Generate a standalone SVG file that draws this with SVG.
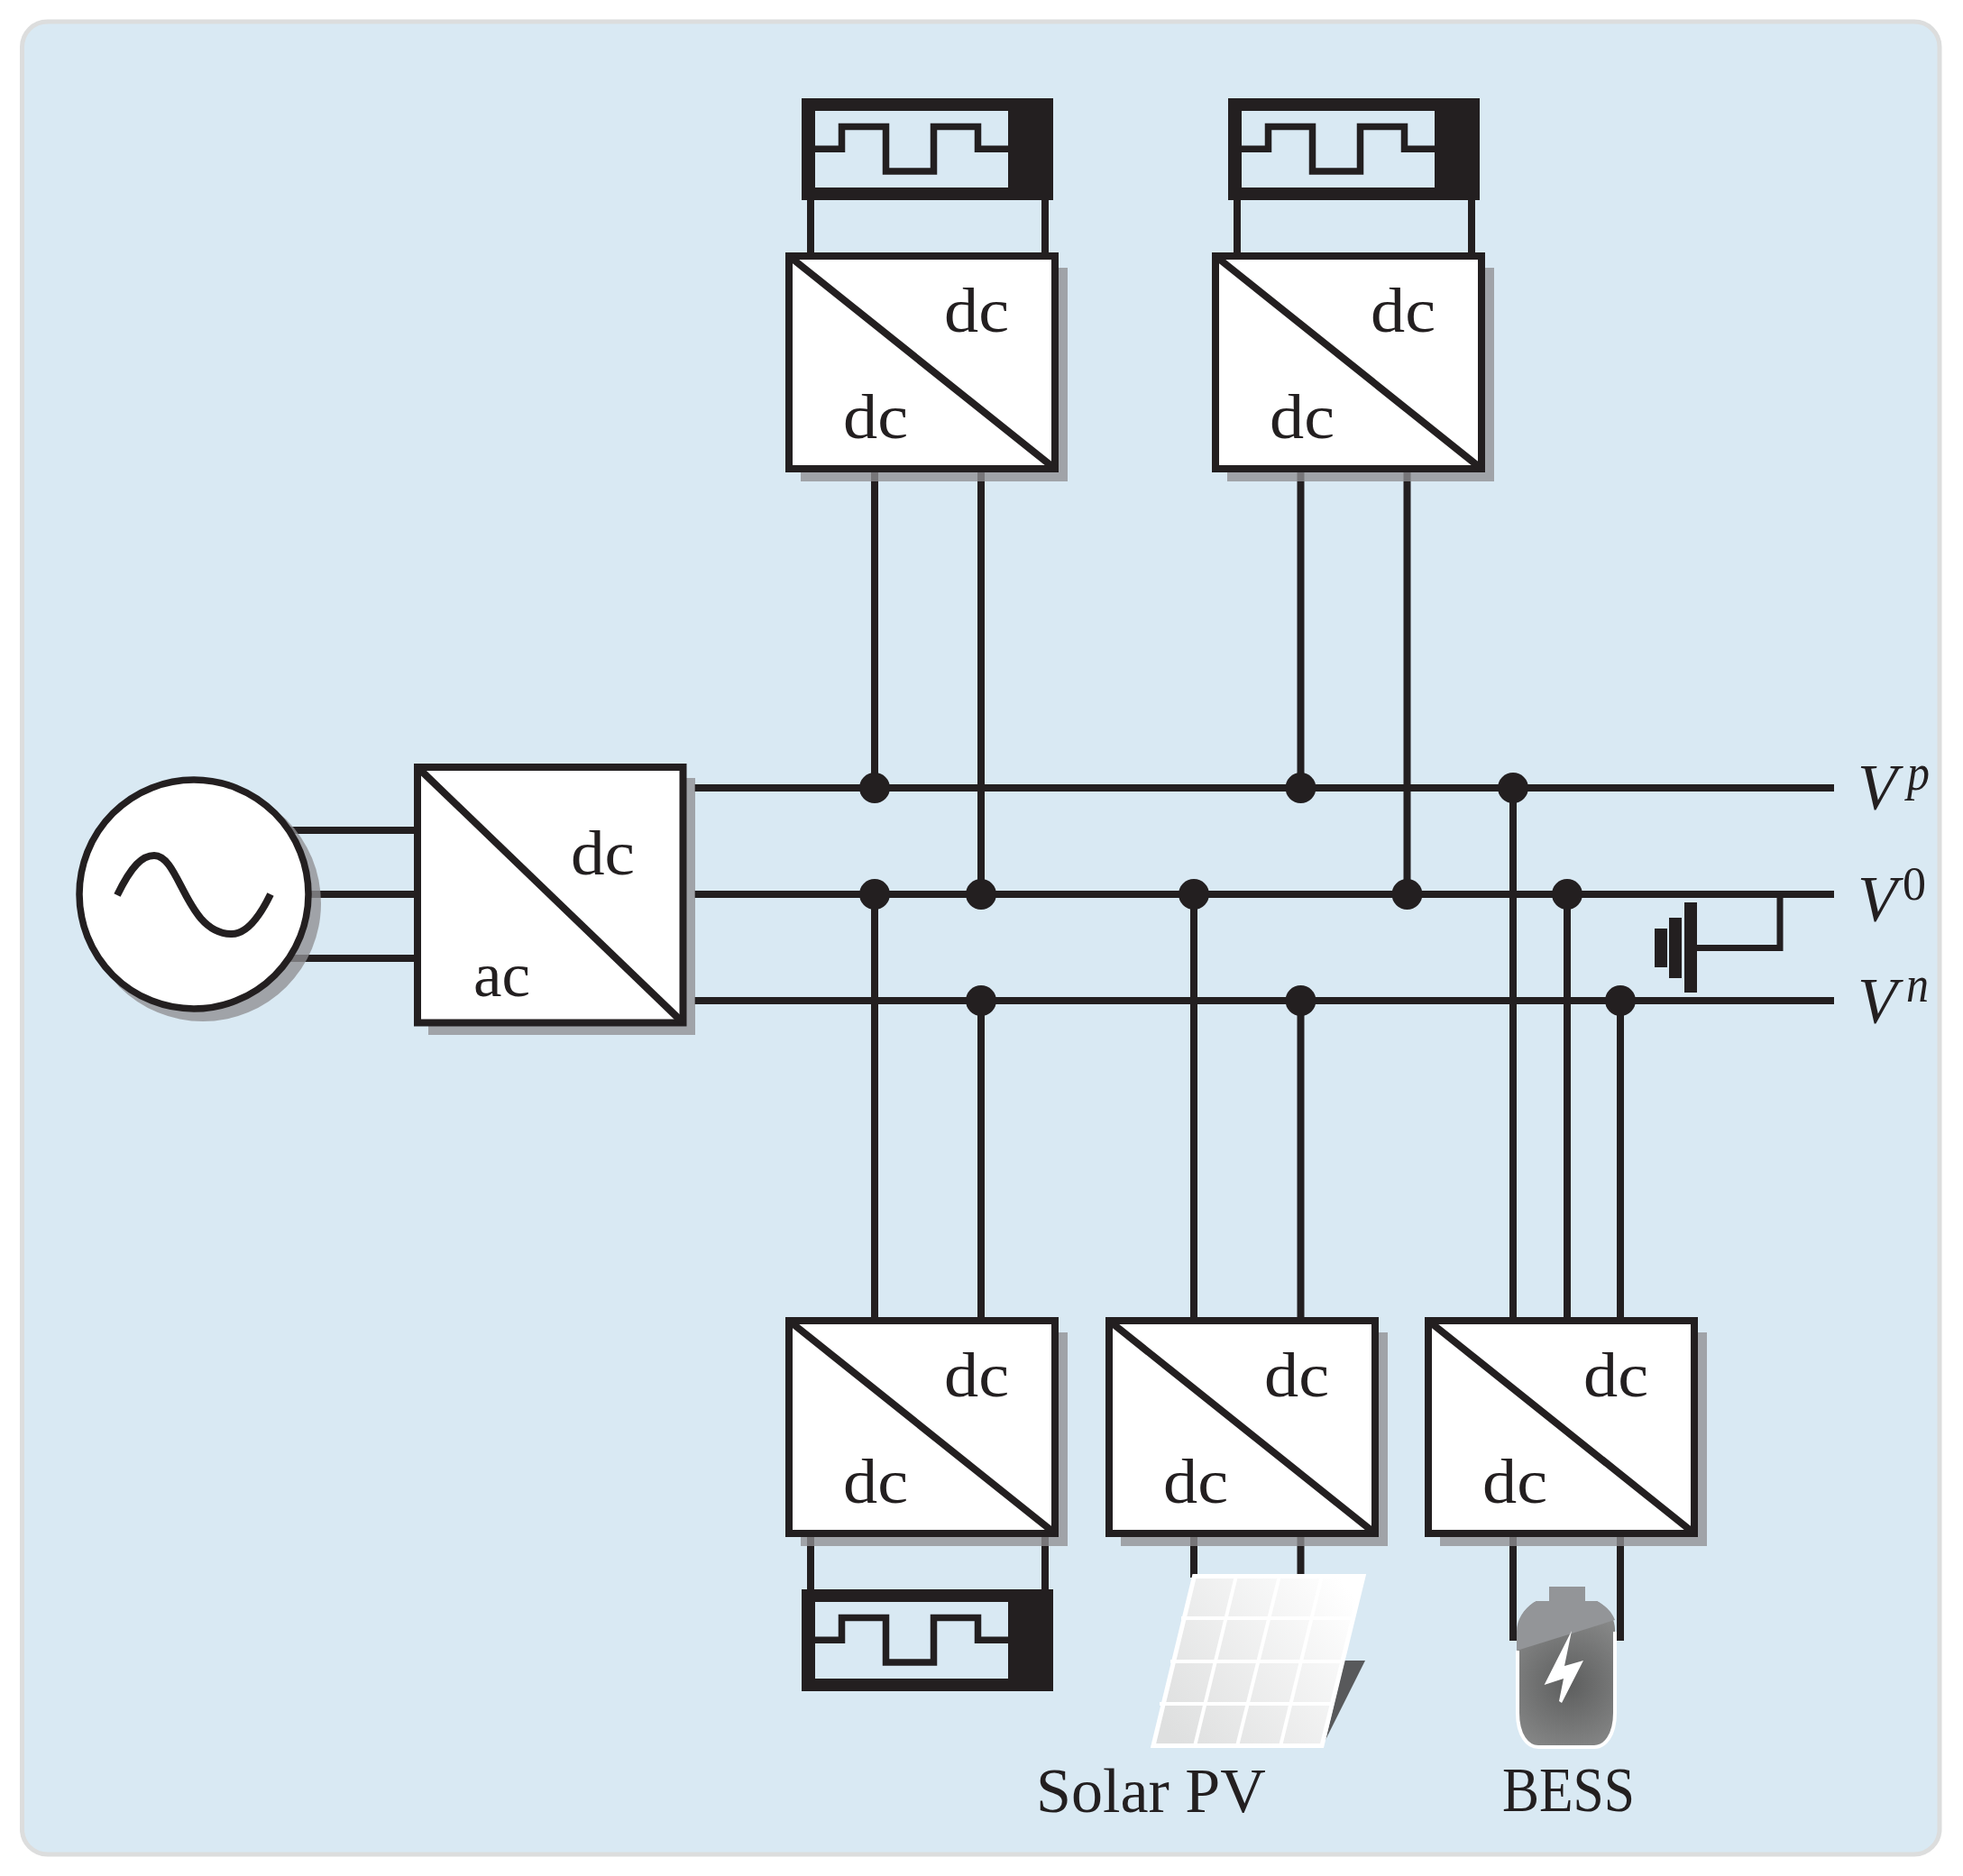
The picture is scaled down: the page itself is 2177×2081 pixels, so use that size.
<svg xmlns="http://www.w3.org/2000/svg" width="2177" height="2081" viewBox="0 0 2177 2081">
<defs>
<style>
.w{fill:none;stroke:#231f20;stroke-width:8}
.box{fill:#fff;stroke:#231f20;stroke-width:8}
.sh{fill:#8f9092;opacity:.78}
.t{font-family:"Liberation Serif",serif;fill:#231f20;font-size:70px}
.i{font-style:italic}
.d{fill:#231f20}
.g{stroke:#fff;stroke-width:4;fill:none}
</style>
<radialGradient id="bat" gradientUnits="userSpaceOnUse" cx="1740" cy="1868" r="82"><stop offset="0" stop-color="#5d5e5e"/><stop offset="1" stop-color="#878888"/></radialGradient>
<linearGradient id="pv" x1="0" x2="1" y1="0.8" y2="0.2"><stop offset="0" stop-color="#dedfdf"/><stop offset="1" stop-color="#ffffff"/></linearGradient>
<g id="store">
<path fill="#231f20" fill-rule="evenodd" d="M889 109H1168V222H889ZM904 123V208H1118V123Z"/>
<path class="w" style="stroke-width:7.500" d="M904 165.300H933.500V140.500H982.500V190H1035.500V140.500H1084.500V165.300H1118"/>
</g>
<g id="conv">
<rect class="sh" x="888" y="297" width="296" height="237"/>
<rect class="box" x="875" y="284" width="295" height="236"/>
<path class="w" d="M875 284L1170 520"/>
<text class="t" x="1047" y="367.500" textLength="72" lengthAdjust="spacingAndGlyphs">dc</text>
<text class="t" x="935" y="485.500" textLength="72" lengthAdjust="spacingAndGlyphs">dc</text>
</g>
</defs>
<rect x="24.500" y="24" width="2126.500" height="2033" rx="28" fill="#d9e9f3" stroke="#dcdddd" stroke-width="5"/>
<g id="connectors">
<path class="w" d="M899 222V281M1159 222V281M1372 222V281M1632 222V281"/>
<path class="w" d="M770 874H2034M770 992H2034M770 1110H2034"/>
<path class="w" d="M215 921H460M215 992H460M215 1063H460"/>
<path class="w" d="M970 524V874M1088 524V992M1442.500 524V874M1560.500 524V992"/>
<path class="w" d="M970 992V1463M1088 1110V1463M1324 992V1463M1442.500 1110V1463M1678 874V1463M1738 992V1463M1797 1110V1463"/>
<path class="w" d="M899 1705V1765M1159 1705V1765M1324 1705V1750M1442.500 1705V1750M1678 1705V1820M1797 1705V1820"/>
<path class="w" style="stroke-width:7" d="M1974 992V1051.500H1880"/>
<g class="d"><circle cx="970" cy="874" r="17"/><circle cx="1442.500" cy="874" r="17"/><circle cx="1678" cy="874" r="17"/><circle cx="970" cy="992" r="17"/><circle cx="1088" cy="992" r="17"/><circle cx="1324" cy="992" r="17"/><circle cx="1560.500" cy="992" r="17"/><circle cx="1738" cy="992" r="17"/><circle cx="1088" cy="1110" r="17"/><circle cx="1442.500" cy="1110" r="17"/><circle cx="1797" cy="1110" r="17"/></g>
</g>
<g id="ground"><rect class="d" x="1835" y="1030" width="14" height="43"/><rect class="d" x="1851" y="1018" width="14" height="67"/><rect class="d" x="1868" y="1001" width="14" height="100"/></g>
<g id="source"><circle class="sh" cx="225" cy="1002" r="131"/><circle cx="215" cy="992" r="127" fill="#fff" stroke="#231f20" stroke-width="7.500"/>
<path class="w" d="M130 993C146 960 158 949 171 949C200 949 206 1036 257 1036C270 1036 284 1025 300 992"/></g>
<g id="acdc"><rect class="sh" x="475" y="863" width="296" height="285"/><rect class="box" x="463" y="851" width="294.500" height="283.500"/><path class="w" d="M463 851L757.500 1134.500"/><text class="t" x="633" y="970" textLength="71" lengthAdjust="spacingAndGlyphs">dc</text><text class="t" x="525" y="1105" textLength="63" lengthAdjust="spacingAndGlyphs">ac</text></g>
<g id="dcdc1"><use href="#conv"/></g>
<g id="dcdc2"><use href="#conv" transform="translate(473 0)"/></g>
<g id="dcdc3"><use href="#conv" transform="translate(0 1181)"/></g>
<g id="dcdc4"><use href="#conv" transform="translate(355 1181)"/></g>
<g id="dcdc5"><use href="#conv" transform="translate(709 1181)"/></g>
<g id="store1"><use href="#store"/></g>
<g id="store2"><use href="#store" transform="translate(473 0)"/></g>
<g id="store3"><use href="#store" transform="translate(0 1654)"/></g>
<g id="pv-panel"><path d="M1491 1842H1514L1470 1930Z" fill="#58595b"/>
<path d="M1324.500 1748.500H1512L1466 1936.500H1279Z" fill="url(#pv)" stroke="#fff" stroke-width="5"/>
<path class="g" d="M1310 1795H1501M1298 1843H1489M1286 1890H1478M1371 1748L1325 1937M1419 1748L1372 1937M1466 1748L1420 1937"/></g>
<g id="battery"><path d="M1718 1760H1758V1776H1771C1782 1782 1792 1795 1791 1810V1900C1791 1925 1780 1938 1768 1938H1706C1694 1938 1683 1925 1683 1900V1810C1683 1795 1692 1782 1704 1776H1718Z" fill="url(#bat)"/>
<path d="M1683 1831V1900C1683 1925 1694 1938 1706 1938H1768C1780 1938 1791 1925 1791 1900V1810" fill="none" stroke="#fff" stroke-width="4"/>
<path d="M1718 1760H1758V1776H1771C1781 1781 1788 1789 1791 1797L1682 1831V1810C1682 1795 1692 1782 1704 1776H1718Z" fill="#939598"/>
<path d="M1743 1809L1735 1848L1756 1842L1732 1889L1729 1887L1734 1862L1712.600 1869Z" fill="#fff"/></g>
<g id="labels">
<text class="t i" x="2060" y="897" style="font-size:72px">V</text><text class="t i" x="2115" y="876" style="font-size:57px" textLength="25" lengthAdjust="spacingAndGlyphs">p</text>
<text class="t i" x="2060" y="1021" style="font-size:72px">V</text><text class="t" x="2110" y="998" style="font-size:52px">0</text>
<text class="t i" x="2060" y="1134" style="font-size:72px">V</text><text class="t i" x="2114" y="1111" style="font-size:57px" textLength="25" lengthAdjust="spacingAndGlyphs">n</text>
<text class="t" x="1149" y="2010">Solar PV</text>
<text class="t" x="1666" y="2009" textLength="147" lengthAdjust="spacingAndGlyphs">BESS</text>
</g>
</svg>
